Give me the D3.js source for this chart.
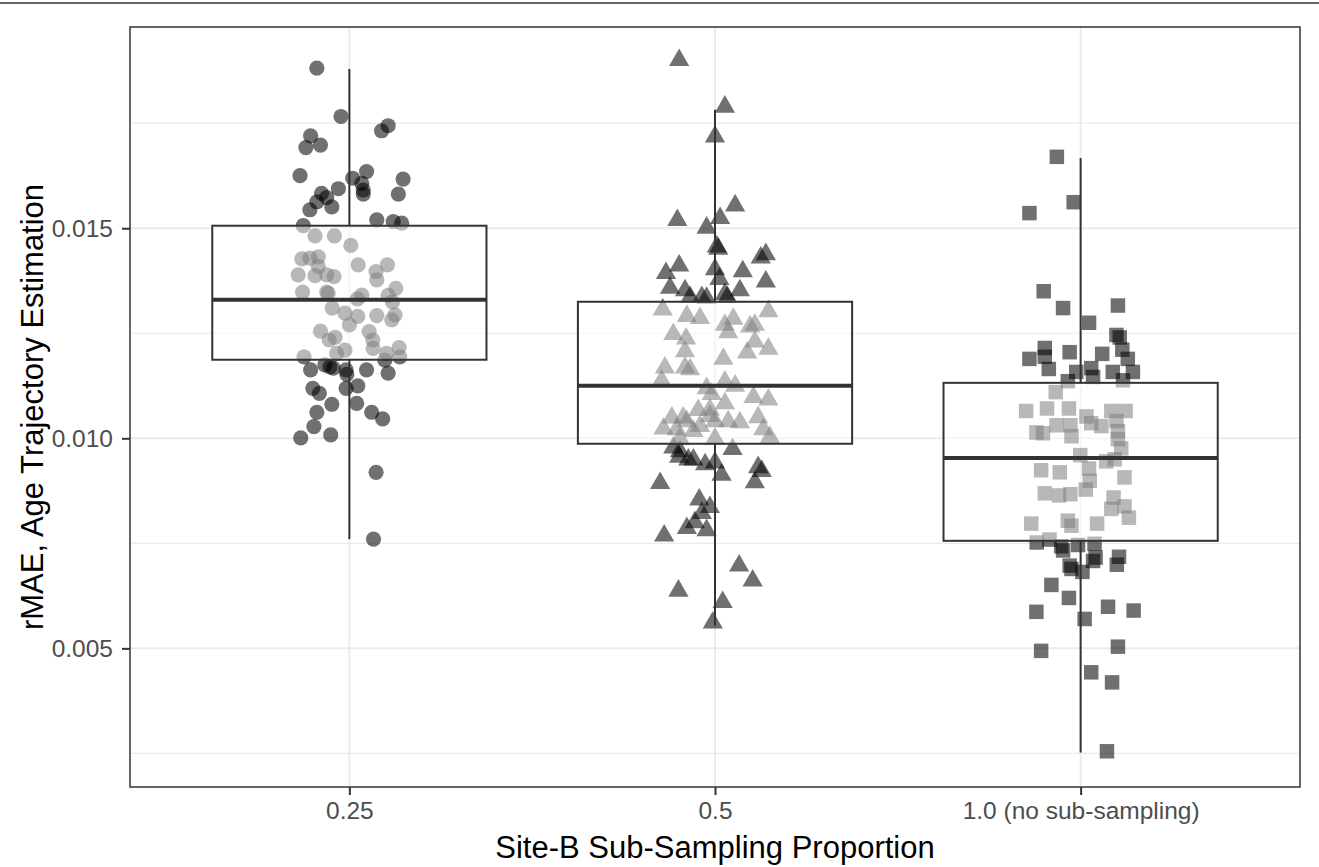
<!DOCTYPE html>
<meta charset="utf-8">
<head>
  <title>rMAE by Site-B sub-sampling proportion</title>
</head>
<script src="https://cdnjs.cloudflare.com/ajax/libs/d3/7.8.5/d3.min.js"></script>
<style>
  body { margin: 0; background: #fff; }
  text { font-family: "Liberation Sans", Arial, Helvetica, sans-serif; }
</style>
<body>
  <div id="my_dataviz"></div>
</body>

<script>
  // categories on the x axis
  var cats = ["0.25", "0.5", "1.0 (no sub-sampling)"];
  // y ticks (values in units of 1e-3)
  var majorTicks = [5, 10, 15];
  var minorTicks = [2.5, 7.5, 12.5, 17.5];

  // boxplot stats per category, units of 1e-3
  var boxLo = [7.60, 5.55, 2.52];
  var boxQ1 = [11.87, 9.87, 7.56];
  var boxMed = [13.30, 11.25, 9.53];
  var boxQ3 = [15.06, 13.25, 11.32];
  var boxHi = [18.79, 17.82, 16.67];

  // jittered points: value (1e-3) and horizontal jitter (in category steps)
  var vals1 = [18.81, 17.66, 17.32, 17.44, 17.20, 16.92, 16.98, 16.25, 16.35, 16.19,
    16.07, 15.91, 15.81, 16.17, 15.94, 15.83, 15.73, 15.63, 15.51, 15.44,
    15.81, 15.20, 15.16, 15.12, 15.06, 14.82, 14.82, 14.59, 14.27, 14.29,
    14.32, 14.09, 14.13, 14.13, 13.97, 13.77, 13.89, 13.87, 13.89, 13.85,
    13.48, 13.48, 13.45, 13.41, 13.32, 13.57, 13.40, 13.25, 13.10, 12.98,
    12.90, 12.70, 12.92, 12.94, 12.82, 12.55, 12.54, 12.34, 12.34, 12.40,
    12.14, 12.10, 12.02, 11.94, 12.02, 12.16, 11.94, 11.86, 11.75, 11.70,
    11.67, 11.63, 11.63, 11.52, 11.63, 11.55, 11.19, 11.07, 11.19, 11.25,
    10.81, 10.83, 10.62, 10.62, 10.46, 10.28, 10.08, 10.01, 9.19, 7.60];
  var jit1 = [-0.089, -0.023, 0.088, 0.106, -0.106, -0.119, -0.079, -0.135, 0.047, 0.009,
    0.034, 0.038, 0.038, 0.147, -0.030, -0.076, -0.062, -0.089, -0.048, -0.108,
    0.134, 0.075, 0.120, 0.143, -0.126, -0.094, -0.041, 0.004, -0.130, -0.108,
    -0.085, -0.085, 0.024, 0.104, 0.073, 0.075, -0.140, -0.094, -0.062, -0.042,
    -0.128, -0.062, -0.058, 0.034, 0.022, 0.127, 0.106, 0.118, -0.047, -0.012,
    0.023, 0.000, 0.075, 0.125, 0.116, -0.079, 0.054, 0.064, -0.055, -0.039,
    0.065, -0.012, -0.035, -0.124, 0.102, 0.136, 0.138, 0.097, -0.067, -0.053,
    -0.044, -0.106, -0.009, -0.007, 0.047, 0.106, -0.100, -0.082, -0.009, 0.023,
    -0.048, 0.020, -0.089, 0.061, 0.091, -0.097, -0.051, -0.133, 0.073, 0.066];

  var vals2 = [19.00, 17.89, 17.18, 15.54, 15.19, 15.24, 15.01, 14.56, 14.51, 14.30,
    14.38, 14.11, 13.93, 14.02, 13.97, 13.73, 13.79, 13.58, 13.52, 13.52,
    13.43, 13.36, 13.36, 13.34, 13.36, 13.06, 13.02, 12.91, 12.86, 12.84,
    12.70, 12.66, 12.70, 12.48, 12.52, 12.37, 12.30, 12.13, 12.04, 12.07,
    11.89, 11.68, 11.68, 11.64, 11.37, 11.35, 11.25, 11.19, 11.05, 10.98,
    10.92, 10.83, 10.67, 10.68, 10.50, 10.49, 10.49, 10.40, 10.53, 10.40,
    10.40, 10.38, 10.23, 10.21, 10.29, 10.17, 10.21, 10.03, 9.99, 9.99,
    9.78, 9.69, 9.74, 9.56, 9.49, 9.49, 9.38, 9.42, 9.13, 9.31,
    9.22, 8.95, 8.93, 8.54, 8.36, 8.22, 8.00, 7.86, 7.81, 7.68,
    6.97, 6.61, 6.37, 6.10, 5.61];
  var jit2 = [-0.098, 0.027, 0, 0.055, -0.103, 0.014, -0.023, 0.005, 0.009, 0.125,
    0.139, -0.098, -0.134, 0, 0.076, 0.139, 0.012, -0.123, -0.082, 0.068,
    0.027, -0.068, -0.036, -0.023, 0.034, -0.143, 0.146, -0.077, -0.041, 0.050,
    0.027, 0.096, 0.109, -0.114, 0.036, -0.079, 0.109, 0.146, 0.088, -0.082,
    0.023, -0.137, -0.082, -0.068, -0.146, 0.027, 0.055, -0.023, -0.009, 0.105,
    0.146, 0.027, -0.046, -0.014, 0.118, -0.118, -0.087, -0.077, -0.014, 0,
    0.036, 0.068, -0.141, -0.105, -0.041, -0.059, 0.132, 0.150, 0, -0.096,
    -0.114, -0.096, 0.048, -0.098, -0.073, -0.059, -0.027, 0, 0.018, 0.118,
    0.128, 0.109, -0.150, -0.043, -0.014, -0.036, -0.055, -0.077, -0.023, -0.139,
    0.066, 0.103, -0.100, 0.021, -0.006];

  var vals3 = [16.70, 15.62, 15.36, 13.50, 13.10, 13.16, 12.75, 12.46, 12.40, 12.15,
    12.05, 12.01, 11.89, 12.11, 11.89, 11.94, 11.65, 11.67, 11.58, 11.58,
    11.58, 11.36, 11.46, 11.38, 11.10, 10.65, 10.71, 10.71, 10.52, 10.65,
    10.65, 10.31, 10.14, 10.12, 10.31, 10.05, 10.36, 10.29, 10.41, 10.17,
    9.98, 9.76, 9.60, 9.45, 9.50, 9.24, 9.19, 9.28, 9.07, 8.99,
    8.78, 8.69, 8.64, 8.67, 8.59, 8.32, 8.38, 8.11, 7.97, 8.04,
    7.92, 7.97, 7.52, 7.59, 7.43, 7.46, 7.49, 7.16, 7.33, 6.97,
    6.89, 6.82, 7.08, 7.18, 6.99, 6.51, 6.20, 5.87, 5.99, 5.90,
    5.70, 4.94, 5.04, 4.43, 4.19, 2.55];
  var jit3 = [-0.065, -0.019, -0.140, -0.101, -0.048, 0.102, 0.023, 0.098, 0.107, -0.098,
    -0.030, 0.059, -0.140, 0.114, 0.129, -0.098, -0.087, 0.029, 0.088, 0.143,
    -0.012, -0.035, 0.034, 0.116, -0.068, -0.149, -0.092, -0.032, 0.016, 0.084,
    0.123, -0.066, -0.121, -0.103, -0.028, -0.025, 0.029, 0.057, 0.098, 0.102,
    0.102, 0.111, -0.001, 0.070, 0.093, -0.108, -0.057, 0.023, 0.120, 0.025,
    0.014, -0.098, -0.059, -0.028, 0.090, 0.084, 0.120, 0.132, -0.135, -0.035,
    -0.025, 0.045, -0.120, -0.085, -0.053, -0.007, 0.038, 0.041, -0.048, -0.030,
    -0.025, 0.005, 0.034, 0.105, 0.099, -0.080, -0.032, -0.121, 0.075, 0.145,
    0.011, -0.108, 0.102, 0.029, 0.086, 0.072];

  var width = 1319, height = 867;
  var panel = { left: 130, right: 1300, top: 27, bottom: 787 };

  var svg = d3.select("#my_dataviz")
    .append("svg")
    .attr("width", width)
    .attr("height", height);

  // thin rule along the very top of the image
  svg.append("line")
    .attr("x1", 0).attr("x2", width)
    .attr("y1", 3).attr("y2", 3)
    .attr("stroke", "#333")
    .attr("stroke-width", 1.6);

  var x = d3.scalePoint()
    .domain(cats)
    .range([panel.left, panel.right])
    .padding(0.6);
  var step = x.step();

  var y = d3.scaleLinear()
    .domain([1.70, 19.79])
    .range([panel.bottom, panel.top]);

  // grid
  var grid = svg.append("g");
  grid.selectAll(".minor")
    .data(minorTicks)
    .enter()
    .append("line")
    .attr("x1", panel.left).attr("x2", panel.right)
    .attr("y1", function (d) { return y(d) })
    .attr("y2", function (d) { return y(d) })
    .attr("stroke", "#ebebeb")
    .attr("stroke-width", 1.2);
  grid.selectAll(".major")
    .data(majorTicks)
    .enter()
    .append("line")
    .attr("x1", panel.left).attr("x2", panel.right)
    .attr("y1", function (d) { return y(d) })
    .attr("y2", function (d) { return y(d) })
    .attr("stroke", "#ebebeb")
    .attr("stroke-width", 2);
  grid.selectAll(".vmajor")
    .data(cats)
    .enter()
    .append("line")
    .attr("x1", function (d) { return x(d) })
    .attr("x2", function (d) { return x(d) })
    .attr("y1", panel.top).attr("y2", panel.bottom)
    .attr("stroke", "#ebebeb")
    .attr("stroke-width", 2);

  // points
  var groups = [
    { vals: vals1, jit: jit1, shape: d3.symbolCircle, size: Math.PI * 7.6 * 7.6 },
    { vals: vals2, jit: jit2, shape: d3.symbolTriangle, size: 178 },
    { vals: vals3, jit: jit3, shape: d3.symbolSquare, size: 14.5 * 14.5 }
  ];
  var pts = svg.append("g");
  groups.forEach(function (g, i) {
    var data = g.vals.map(function (v, k) { return { v: v, dx: g.jit[k] } });
    pts.selectAll(".p" + i)
      .data(data)
      .enter()
      .append("path")
      .attr("d", d3.symbol().type(g.shape).size(g.size))
      .attr("transform", function (d) {
        return "translate(" + (x(cats[i]) + d.dx * step) + "," + y(d.v) + ")";
      })
      .attr("fill", "#000")
      .attr("fill-opacity", 0.56);
  });

  // boxplots
  var bw = 0.75 * step;
  var boxes = svg.append("g");
  cats.forEach(function (c, i) {
    var cx = x(c);
    boxes.append("line")
      .attr("x1", cx).attr("x2", cx)
      .attr("y1", y(boxQ3[i])).attr("y2", y(boxHi[i]))
      .attr("stroke", "#333").attr("stroke-width", 2);
    boxes.append("line")
      .attr("x1", cx).attr("x2", cx)
      .attr("y1", y(boxQ1[i])).attr("y2", y(boxLo[i]))
      .attr("stroke", "#333").attr("stroke-width", 2);
    boxes.append("rect")
      .attr("x", cx - bw / 2)
      .attr("width", bw)
      .attr("y", y(boxQ3[i]))
      .attr("height", y(boxQ1[i]) - y(boxQ3[i]))
      .attr("fill", "#fff")
      .attr("fill-opacity", 0.5)
      .attr("stroke", "#333")
      .attr("stroke-width", 2);
    boxes.append("line")
      .attr("x1", cx - bw / 2).attr("x2", cx + bw / 2)
      .attr("y1", y(boxMed[i])).attr("y2", y(boxMed[i]))
      .attr("stroke", "#333").attr("stroke-width", 4);
  });

  // panel border
  svg.append("rect")
    .attr("x", panel.left).attr("y", panel.top)
    .attr("width", panel.right - panel.left)
    .attr("height", panel.bottom - panel.top)
    .attr("fill", "none")
    .attr("stroke", "#333")
    .attr("stroke-width", 1.5);

  // axes
  var fmt = function (d) { return d3.format(".3f")(d / 1000) };
  var yAxis = svg.append("g")
    .attr("transform", "translate(" + panel.left + ",0)")
    .call(d3.axisLeft(y).tickValues(majorTicks).tickFormat(fmt).tickSize(8).tickPadding(9));
  var xAxis = svg.append("g")
    .attr("transform", "translate(0," + panel.bottom + ")")
    .call(d3.axisBottom(x).tickSize(8).tickPadding(7));
  [yAxis, xAxis].forEach(function (ax) {
    ax.select(".domain").remove();
    ax.selectAll("line").attr("stroke", "#333").attr("stroke-width", 2);
    ax.selectAll("text")
      .attr("fill", "#4d4d4d")
      .style("font-size", "24.5px")
      .style("font-family", "'Liberation Sans', Arial, sans-serif");
  });

  svg.append("text")
    .attr("x", (panel.left + panel.right) / 2)
    .attr("y", 858)
    .attr("text-anchor", "middle")
    .style("font-size", "31px")
    .attr("fill", "#000")
    .text("Site-B Sub-Sampling Proportion");

  svg.append("text")
    .attr("transform", "translate(43," + (panel.top + panel.bottom) / 2 + ") rotate(-90)")
    .attr("text-anchor", "middle")
    .style("font-size", "31px")
    .attr("fill", "#000")
    .text("rMAE, Age Trajectory Estimation");
</script>
